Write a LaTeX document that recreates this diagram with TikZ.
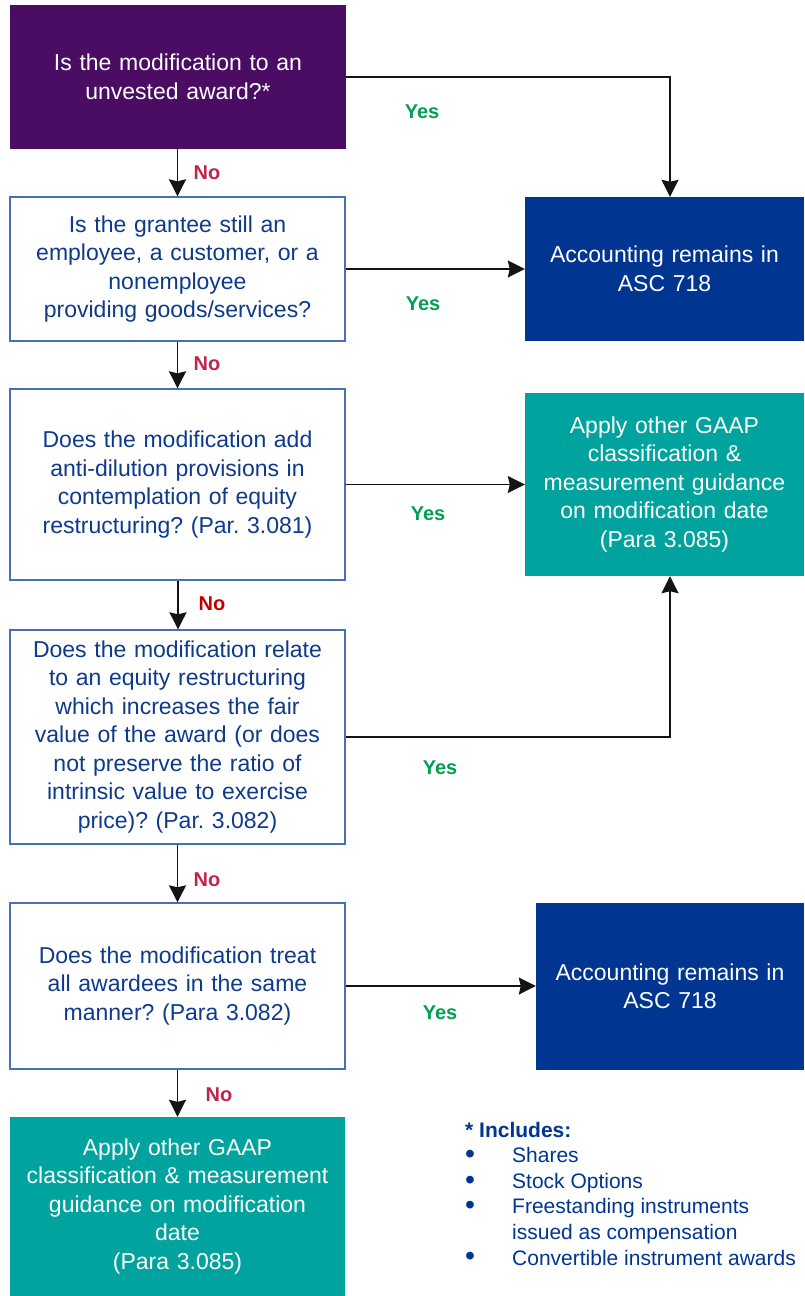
\documentclass[tikz,border=0pt]{standalone}
\usepackage{fontspec}
\usepackage{graphicx}
\setmainfont{Liberation Sans}
\usetikzlibrary{arrows.meta}
\frenchspacing

\definecolor{qpurple}{RGB}{74,13,99}
\definecolor{qnavy}{RGB}{0,53,145}
\definecolor{qteal}{RGB}{0,163,158}
\definecolor{qtext}{RGB}{14,58,140}
\definecolor{qborder}{RGB}{72,112,180}
\definecolor{qyes}{RGB}{0,160,80}
\definecolor{qno}{RGB}{192,36,76}
\definecolor{qnored}{RGB}{192,0,0}
\definecolor{qline}{RGB}{20,20,20}

\newcommand{\qbullet}{\raisebox{-0.8pt}{\scalebox{1.35}{\textbullet}}}

\tikzset{
  boxbase/.style={rectangle, inner sep=0pt, align=center,
    font=\fontsize{23}{28.5}\selectfont},
  question/.style={boxbase, draw=qborder, line width=1.3pt, fill=white, text=qtext},
  startbox/.style={boxbase, fill=qpurple, text=white},
  remainbox/.style={boxbase, fill=qnavy, text=white},
  otherbox/.style={boxbase, fill=qteal, text=white},
  flow/.style={draw=qline, line width=1.8pt,
    -{Stealth[length=17pt,width=17pt,inset=2pt]}},
  yeslbl/.style={font=\bfseries\fontsize{20}{24}\selectfont, text=qyes, inner sep=0pt},
  nolbl/.style={font=\bfseries\fontsize{20}{24}\selectfont, text=qno, inner sep=0pt},
}

\begin{document}
\begin{tikzpicture}[x=1pt,y=-1pt]
\useasboundingbox (0,0) rectangle (804,1296);

% left column of questions
\node[startbox, minimum width=336, minimum height=144, text width=320] (q1) at (178,77)
  {Is the modification to an\\unvested award?*};
\node[question, minimum width=335, minimum height=144, text width=325] (q2) at (177.5,269)
  {Is the grantee still an\\employee, a customer, or a\\nonemployee\\providing goods/services?};
\node[question, minimum width=335, minimum height=191, text width=325] (q3) at (177.5,484.5)
  {Does the modification add\\anti-dilution provisions in\\contemplation of equity\\restructuring? (Par. 3.081)};
\node[question, minimum width=335, minimum height=214, text width=325] (q4) at (177.5,737)
  {Does the modification relate\\to an equity restructuring\\which increases the fair\\value of the award (or does\\not preserve the ratio of\\intrinsic value to exercise\\price)? (Par. 3.082)};
\node[question, minimum width=335, minimum height=166, text width=325] (q5) at (177.5,986)
  {Does the modification treat\\all awardees in the same\\manner? (Para 3.082)};
\node[otherbox, minimum width=335, minimum height=179, text width=325] (o2) at (177.5,1206.5)
  {Apply other GAAP\\classification \& measurement\\guidance on modification\\date\\(Para 3.085)};

% outcomes on the right
\node[remainbox, minimum width=279, minimum height=144, text width=270] (r1) at (664.5,269)
  {Accounting remains in\\ASC 718};
\node[otherbox, minimum width=279, minimum height=183, text width=270] (o1) at (664.5,484.5)
  {Apply other GAAP\\classification \&\\measurement guidance\\on modification date\\(Para 3.085)};
\node[remainbox, minimum width=268, minimum height=167, text width=262] (r2) at (670,986.5)
  {Accounting remains in\\ASC 718};

% "No" path down the left column
\draw[flow] (q1.south -| q2.north) -- (q2.north);
\draw[flow] (q2.south) -- (q3.north);
\draw[flow] ([xshift=0.5pt]q3.south) -- ([xshift=0.5pt]q4.north);
\draw[flow] (q4.south) -- (q5.north);
\draw[flow] (q5.south) -- (o2.north);

% "Yes" branches to the right
\draw[flow] (q1.east) -| ([xshift=5.5pt]r1.north);
\draw[flow] (q2.east) -- (q2.east -| r1.west);
\draw[flow] (q3.east) -- (q3.east -| o1.west);
\draw[flow] (q4.east) -| ([xshift=5.5pt]o1.south);
\draw[flow] (q5.east) -- (q5.east -| r2.west);

% branch labels
\node[yeslbl] (y1) at (422,112) {Yes};
\node[yeslbl] (y2) at (423,304) {Yes};
\node[yeslbl] (y3) at (428,514) {Yes};
\node[yeslbl] (y4) at (440,768) {Yes};
\node[yeslbl] (y5) at (440,1013) {Yes};
\node[nolbl] (n1) at (207,173) {No};
\node[nolbl] (n2) at (207,364) {No};
\node[nolbl, text=qnored] (n3) at (212,604) {No};
\node[nolbl] (n4) at (207,880) {No};
\node[nolbl] (n5) at (219,1095) {No};

% footnote listing the award types
\node[anchor=north west, inner sep=0pt, text=qnavy,
      font=\fontsize{21}{25.6}\selectfont] (note) at (465,1119)
  {\begin{tabular}{@{}p{47pt}@{}l@{}}
   \multicolumn{2}{@{}l@{}}{\bfseries * Includes:}\\
   \qbullet & Shares\\
   \qbullet & Stock Options\\
   \qbullet & Freestanding instruments\\
            & issued as compensation\\
   \qbullet & Convertible instrument awards
   \end{tabular}};
\end{tikzpicture}
\end{document}
